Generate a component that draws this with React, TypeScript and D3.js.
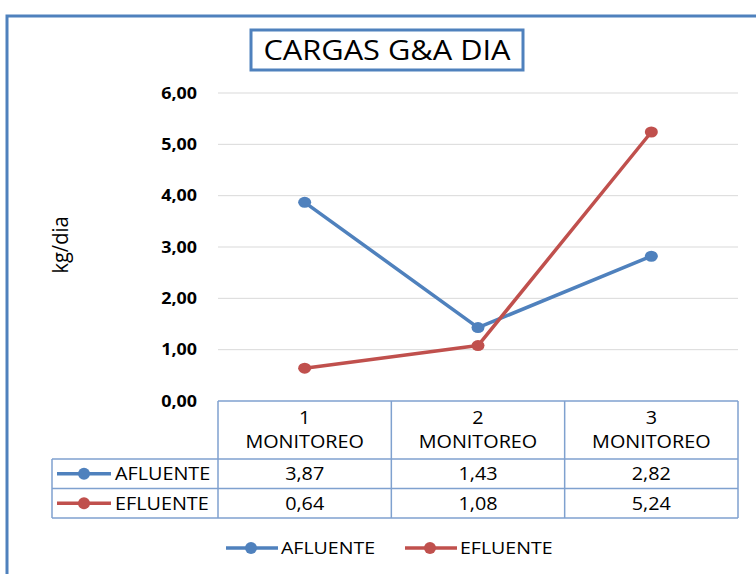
import React from "react";
import * as d3 from "d3";

const categories = ["1", "2", "3"];
const categoryLabel = "MONITOREO";
const afluente = [3.87, 1.43, 2.82];
const efluente = [0.64, 1.08, 5.24];
const yTicks = [0, 1, 2, 3, 4, 5, 6];

const series = [
  { name: "AFLUENTE", values: afluente, color: "#4F81BD" },
  { name: "EFLUENTE", values: efluente, color: "#C0504D" },
];

const fmt = (v: number) => v.toFixed(2).replace(".", ",");
const FONT = "'Open Sans', Lato, sans-serif";
const TABLE = "#7FA1CF";

// text with a slight horizontal stretch (the reference glyphs are wide)
function T({ x, y, sx = 1.1, children, ...rest }: any) {
  return (
    <text transform={`translate(${x},${y}) scale(${sx},1)`} fill="#000" {...rest}>
      {children}
    </text>
  );
}

export default function App() {
  const W = 756;
  const H = 574;
  const left = 218;
  const right = 738;
  const top = 93;
  const bottom = 401;

  const x = d3.scaleBand().domain(categories).range([left, right]);
  const y = d3.scaleLinear().domain([0, 6]).range([bottom, top]);
  const cx = (c: string) => x(c)! + x.bandwidth() / 2;

  const line = d3
    .line<number>()
    .x((_, i) => cx(categories[i]))
    .y(d => y(d));

  const headerBottom = 459;
  const rowH = 29.5;
  const tableLeft = 52;
  const rowTops = series.map((_, i) => headerBottom + i * rowH);
  const tableBottom = headerBottom + series.length * rowH;

  return (
    <svg
      width={W}
      height={H}
      style={{ position: "absolute", left: 0, top: 0, background: "#fff" }}
      fontFamily={FONT}
    >
      {/* outer frame */}
      <rect x={7} y={16} width={W} height={H} fill="#fff" stroke="#4F81BD" strokeWidth={3} />

      {/* title */}
      <rect x={251} y={30} width={272} height={40} fill="#fff" stroke="#4F81BD" strokeWidth={3} />
      <T x={387} y={60} sx={1.14} textAnchor="middle" fontSize={27}>
        CARGAS G&amp;A DIA
      </T>

      {/* gridlines + y ticks */}
      {yTicks.map(t => (
        <g key={t}>
          {t > 0 && (
            <line x1={left} x2={right} y1={y(t)} y2={y(t)} stroke="#D9D9D9" strokeWidth={1} />
          )}
          <T x={197} y={y(t)} sx={1.12} dy="0.36em" textAnchor="end" fontSize={16} fontWeight="bold">
            {fmt(t)}
          </T>
        </g>
      ))}

      {/* y label */}
      <text
        transform={`translate(68,${(top + bottom) / 2 - 2}) rotate(-90) scale(1,1.1)`}
        textAnchor="middle"
        fontSize={20}
        fill="#000"
      >
        kg/dia
      </text>

      {/* lines */}
      {series.map(s => (
        <g key={s.name}>
          <path d={line(s.values)!} fill="none" stroke={s.color} strokeWidth={3.5} strokeLinejoin="round" />
          {s.values.map((v, i) => (
            <ellipse key={i} cx={cx(categories[i])} cy={y(v)} rx={6.5} ry={5.5} fill={s.color} />
          ))}
        </g>
      ))}

      {/* data table */}
      <g stroke={TABLE} strokeWidth={1.5} fill="none">
        <line x1={left} x2={right} y1={bottom} y2={bottom} />
        <line x1={tableLeft} x2={right} y1={headerBottom} y2={headerBottom} />
        {rowTops.map((rt, i) => (
          <line key={i} x1={tableLeft} x2={right} y1={rt + rowH} y2={rt + rowH} />
        ))}
        <line x1={tableLeft} x2={tableLeft} y1={headerBottom} y2={tableBottom} />
        {categories.map(c => (
          <line key={c} x1={x(c)!} x2={x(c)!} y1={bottom} y2={tableBottom} />
        ))}
        <line x1={right} x2={right} y1={bottom} y2={tableBottom} />
      </g>

      {categories.map(c => (
        <g key={c}>
          <T x={cx(c)} y={424} sx={1.1} textAnchor="middle" fontSize={18}>{c}</T>
          <T x={cx(c)} y={448} sx={1.1} textAnchor="middle" fontSize={18}>{categoryLabel}</T>
        </g>
      ))}

      {series.map((s, si) => {
        const my = rowTops[si] + rowH / 2;
        return (
          <g key={s.name}>
            <line x1={57} x2={111} y1={my} y2={my} stroke={s.color} strokeWidth={3.5} />
            <circle cx={84} cy={my} r={6} fill={s.color} />
            <T x={115} y={my} sx={1.1} dy="0.36em" fontSize={18}>
              {s.name}
            </T>
            {s.values.map((v, i) => (
              <T key={i} x={cx(categories[i])} y={my} sx={1.1} dy="0.36em" textAnchor="middle" fontSize={18}>
                {fmt(v)}
              </T>
            ))}
          </g>
        );
      })}

      {/* legend */}
      {series.map((s, i) => {
        const lx = 226 + i * 179;
        return (
          <g key={s.name}>
            <line x1={lx} x2={lx + 52} y1={548} y2={548} stroke={s.color} strokeWidth={3.5} />
            <circle cx={lx + 25} cy={548} r={6} fill={s.color} />
            <T x={lx + 55} y={548} sx={1.15} dy="0.36em" fontSize={17}>
              {s.name}
            </T>
          </g>
        );
      })}
    </svg>
  );
}
